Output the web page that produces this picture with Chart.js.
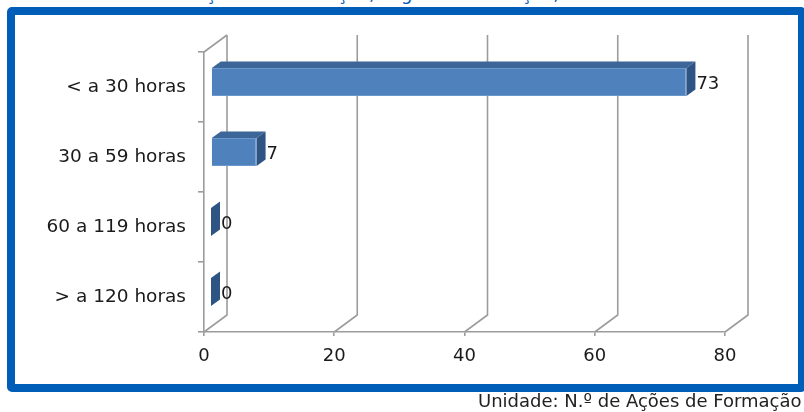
<!DOCTYPE html>
<html lang="pt">
<head>
<meta charset="utf-8">
<title>Ações de Formação, segundo a duração</title>
<script src="https://cdn.jsdelivr.net/npm/chart.js@4/dist/chart.umd.min.js"></script>
<style>
    html, body { margin: 0; padding: 0; background: #fff; }
    body { width: 804px; height: 412px; position: relative; overflow: hidden; font-family: "DejaVu Sans", sans-serif; }
    .titulo { position: absolute; left: 0; width: 804px; top: -16px; text-align: center; color: #0060b6; font-size: 18px; line-height: 20px; white-space: nowrap; }
    .caixa { position: absolute; left: 7px; top: 7px; width: 783px; height: 369px; border: 8px solid #005eb8; border-radius: 5px; background: #fff; }
    .unidade { position: absolute; left: 478px; top: 390px; font-size: 18px; line-height: 22px; color: #222; white-space: nowrap; }
    #grafico { position: absolute; left: 0; top: 0; }
</style>
</head>
<body>
<div class="titulo">Ações de Formação, segundo a duração, 2019</div>
<div class="caixa"></div>
<canvas id="grafico" width="804" height="412"></canvas>
<div class="unidade">Unidade: N.º de Ações de Formação</div>

<script>
// duração das ações e n.º de ações em cada escalão
const categorias = ['< a 30 horas', '30 a 59 horas', '60 a 119 horas', '> a 120 horas'];
const acoes = [73, 7, 0, 0];
const eixoMin = 0;
const eixoMax = 80;
const eixoPasso = 20;

// profundidade do "3D": parede do fundo e espessura das barras
const FUNDO_DX = 23, FUNDO_DY = 17;
const BARRA_DX = 7, BARRA_DY = 5;
const LADO_DX = 9, LADO_DY = 6.5;

const corGrelha = '#9c9c9c';
const fonte = '"DejaVu Sans", sans-serif';

/**
 * Desenha a parede do fundo, as diagonais e a profundidade das barras
 */
const efeito3D = {
    id: 'efeito3D',
    beforeDatasetsDraw(chart) {
        const { ctx, chartArea, scales } = chart;
        const x = scales.x;

        ctx.save();
        ctx.strokeStyle = corGrelha;
        ctx.lineWidth = 1.6;
        ctx.beginPath();
        for (let v = eixoMin; v <= eixoMax; v += eixoPasso) {
            const px = x.getPixelForValue(v);
            ctx.moveTo(px, chartArea.bottom);
            ctx.lineTo(px + FUNDO_DX, chartArea.bottom - FUNDO_DY);
            ctx.lineTo(px + FUNDO_DX, chartArea.top - FUNDO_DY);
        }
        // canto superior esquerdo
        ctx.moveTo(chartArea.left, chartArea.top);
        ctx.lineTo(chartArea.left + FUNDO_DX, chartArea.top - FUNDO_DY);
        ctx.stroke();
        ctx.restore();

        // as barras ficam a meio da profundidade
        ctx.save();
        ctx.translate(BARRA_DX, -BARRA_DY);
    },
    afterDatasetsDraw(chart) {
        const { ctx } = chart;
        const meta = chart.getDatasetMeta(0);

        meta.data.forEach((bar, i) => {
            const p = bar.getProps(['x', 'y', 'base', 'height'], true);
            const topo = p.y - p.height / 2;
            const baixo = p.y + p.height / 2;

            // face de cima
            ctx.fillStyle = '#3c6598';
            ctx.beginPath();
            ctx.moveTo(p.base, topo);
            ctx.lineTo(p.x, topo);
            ctx.lineTo(p.x + LADO_DX, topo - LADO_DY);
            ctx.lineTo(p.base + LADO_DX, topo - LADO_DY);
            ctx.closePath();
            ctx.fill();

            // face lateral
            ctx.fillStyle = '#2e5484';
            ctx.beginPath();
            ctx.moveTo(p.x, topo);
            ctx.lineTo(p.x + LADO_DX, topo - LADO_DY);
            ctx.lineTo(p.x + LADO_DX, baixo - LADO_DY);
            ctx.lineTo(p.x, baixo);
            ctx.closePath();
            ctx.fill();

            // valor
            ctx.fillStyle = '#1a1a1a';
            ctx.font = '18px ' + fonte;
            ctx.textAlign = 'left';
            ctx.textBaseline = 'middle';
            ctx.fillText(String(acoes[i]), p.x + LADO_DX + 1, p.y + 2);
        });

        ctx.restore();
    }
};

new Chart(document.getElementById('grafico'), {
    type: 'bar',
    data: {
        labels: categorias,
        datasets: [{
            data: acoes,
            backgroundColor: '#4f81bd',
            borderColor: '#6a97cc',
            borderWidth: 1,
            barPercentage: 0.4,
            categoryPercentage: 1
        }]
    },
    options: {
        indexAxis: 'y',
        responsive: false,
        animation: false,
        layout: { padding: { left: 0, top: 52, right: 79, bottom: 0 } },
        plugins: {
            legend: { display: false },
            tooltip: { enabled: false }
        },
        scales: {
            x: {
                min: eixoMin,
                max: eixoMax,
                ticks: {
                    stepSize: eixoPasso,
                    color: '#1a1a1a',
                    padding: 10,
                    font: { family: fonte, size: 18 }
                },
                grid: { drawOnChartArea: false, color: corGrelha, lineWidth: 1.6, tickLength: 4 },
                border: { display: true, color: corGrelha, width: 1.6 },
                afterFit(scale) { scale.height = 80; }
            },
            y: {
                ticks: {
                    color: '#1a1a1a',
                    padding: 12,
                    font: { family: fonte, size: 18.5 }
                },
                grid: { drawOnChartArea: false, offset: true, color: corGrelha, lineWidth: 1.6, tickLength: 6 },
                border: { display: true, color: corGrelha, width: 1.6 },
                afterFit(scale) { scale.width = 204; }
            }
        }
    },
    plugins: [efeito3D]
});
</script>
</body>
</html>
